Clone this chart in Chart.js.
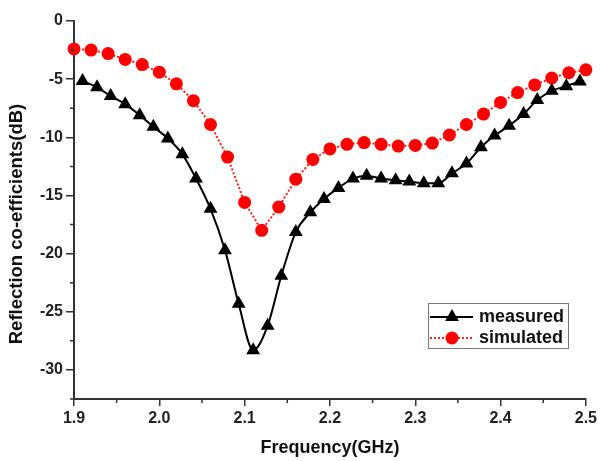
<!DOCTYPE html>
<html>
<head>
<meta charset="utf-8">
<script src="https://cdn.jsdelivr.net/npm/chart.js@4.4.0/dist/chart.umd.min.js"></script>
<style>
  html, body { margin: 0; padding: 0; background: #fff; }
  #wrap { width: 600px; height: 461px; }
</style>
</head>
<body>
<div id="wrap"><canvas id="s11"></canvas></div>
<script>
// measured S11 (dB)
var measFreq = [1.910, 1.927, 1.943, 1.960, 1.977, 1.993, 2.010, 2.027, 2.043, 2.060, 2.077, 2.093,
                2.110, 2.127, 2.143, 2.160, 2.177, 2.193, 2.210, 2.227, 2.243, 2.260, 2.277, 2.293,
                2.310, 2.327, 2.343, 2.360, 2.377, 2.393, 2.410, 2.427, 2.443, 2.460, 2.477, 2.493];
var measS11 = [-5.15, -5.7, -6.45, -7.15, -8.1, -9.1, -10.1, -11.45, -13.55, -16.15, -19.7, -24.3,
               -28.3, -26.2, -21.9, -18.15, -16.45, -15.3, -14.35, -13.55, -13.3, -13.55, -13.7, -13.8,
               -13.95, -13.95, -13.1, -12.25, -10.85, -9.85, -9.0, -8.0, -6.8, -6.0, -5.6, -5.2];

// simulated S11 (dB)
var simFreq = [1.90, 1.92, 1.94, 1.96, 1.98, 2.00, 2.02, 2.04, 2.06, 2.08, 2.10, 2.12, 2.14, 2.16, 2.18, 2.20,
               2.22, 2.24, 2.26, 2.28, 2.30, 2.32, 2.34, 2.36, 2.38, 2.40, 2.42, 2.44, 2.46, 2.48, 2.50];
var simS11 = [-2.4, -2.5, -2.8, -3.3, -3.75, -4.4, -5.4, -6.85, -8.9, -11.7, -15.6, -18.0, -16.0, -13.6, -11.9, -11.0,
              -10.6, -10.45, -10.6, -10.75, -10.7, -10.5, -9.8, -8.9, -8.0, -7.0, -6.15, -5.5, -4.9, -4.45, -4.2];

var xTicks = [1.9, 2.0, 2.1, 2.2, 2.3, 2.4, 2.5];
var xMinor = [1.95, 2.05, 2.15, 2.25, 2.35, 2.45];
var yTicks = [0, -5, -10, -15, -20, -25, -30];
var yMinor = [-2.5, -7.5, -12.5, -17.5, -22.5, -27.5, -32.5];

var seriesNames = ["measured", "simulated"];
var yTitle = "Reflection co-efficients(dB)";
var xTitle = "Frequency(GHz)";

function pairs(xs, ys) {
    return xs.map(function (x, i) { return { x: x, y: ys[i] }; });
}

var axisColor = '#333';
var tickFont = { family: 'Liberation Sans', size: 16, weight: 'bold' };
var titleFont = { family: 'Liberation Sans', size: 18, weight: 'bold' };

// small ticks between the labelled ones
var minorTicks = {
    id: 'minorTicks',
    afterDraw: function (chart) {
        var ctx = chart.ctx, a = chart.chartArea;
        var xs = chart.scales.x, ys = chart.scales.y;
        ctx.save();
        ctx.strokeStyle = axisColor;
        ctx.lineWidth = 1.5;
        ctx.beginPath();
        xMinor.forEach(function (v) {
            var p = xs.getPixelForValue(v);
            ctx.moveTo(p, a.bottom);
            ctx.lineTo(p, a.bottom + 4);
        });
        yMinor.forEach(function (v) {
            var p = ys.getPixelForValue(v);
            ctx.moveTo(a.left, p);
            ctx.lineTo(a.left - 4, p);
        });
        ctx.stroke();
        ctx.restore();
    }
};

// vertical axis title, sits a little below the middle of the axis
var sideTitle = {
    id: 'sideTitle',
    afterDraw: function (chart) {
        var ctx = chart.ctx;
        ctx.save();
        ctx.translate(17, 224);
        ctx.rotate(-Math.PI / 2);
        ctx.fillStyle = '#111';
        ctx.font = 'bold 18.5px "Liberation Sans"';
        ctx.textAlign = 'center';
        ctx.textBaseline = 'middle';
        ctx.fillText(yTitle, 0, 0);
        ctx.restore();
    }
};

// boxed legend, line with the marker in the middle
var boxLegend = {
    id: 'boxLegend',
    afterDraw: function (chart) {
        var ctx = chart.ctx;
        var bx = 428, by = 303, bw = 140, bh = 45;
        ctx.save();
        ctx.strokeStyle = '#777';
        ctx.lineWidth = 1;
        ctx.strokeRect(bx + 0.5, by + 0.5, bw, bh);
        chart.data.datasets.forEach(function (ds, i) {
            var cy = by + 14 + i * 21;
            ctx.strokeStyle = ds.borderColor;
            ctx.lineWidth = ds.borderWidth;
            ctx.setLineDash(ds.borderDash || []);
            ctx.beginPath();
            ctx.moveTo(bx + 2, cy);
            ctx.lineTo(bx + 45, cy);
            ctx.stroke();
            ctx.setLineDash([]);
            ctx.fillStyle = ds.pointBackgroundColor;
            ctx.strokeStyle = ds.pointBackgroundColor;
            Chart.helpers.drawPoint(ctx, {
                pointStyle: ds.pointStyle,
                radius: ds.pointRadius,
                rotation: 0,
                borderWidth: 0
            }, bx + 24, cy);
            ctx.fillStyle = '#111';
            ctx.font = 'bold 18px "Liberation Sans"';
            ctx.textBaseline = 'middle';
            ctx.textAlign = 'left';
            ctx.fillText(ds.label, bx + 51, cy);
        });
        ctx.restore();
    }
};

new Chart(document.getElementById('s11'), {
    type: 'line',
    data: {
        datasets: [
            {
                label: seriesNames[0],
                data: pairs(measFreq, measS11),
                borderColor: '#000',
                borderWidth: 2,
                cubicInterpolationMode: 'monotone',
                pointStyle: 'triangle',
                pointRadius: 8,
                pointBackgroundColor: '#000',
                pointBorderColor: '#000',
                pointBorderWidth: 0,
                clip: false
            },
            {
                label: seriesNames[1],
                data: pairs(simFreq, simS11),
                borderColor: '#ff1a1a',
                borderWidth: 2,
                borderDash: [2, 2],
                tension: 0,
                pointStyle: 'circle',
                pointRadius: 6.5,
                pointBackgroundColor: '#ff0000',
                pointBorderColor: '#ff0000',
                pointBorderWidth: 0,
                clip: false
            }
        ]
    },
    options: {
        responsive: true,
        maintainAspectRatio: false,
        animation: false,
        layout: { padding: { top: 21, right: 12, left: 0, bottom: 0 } },
        plugins: {
            legend: { display: false },
            tooltip: { enabled: false }
        },
        scales: {
            x: {
                type: 'linear',
                min: 1.9,
                max: 2.5,
                afterBuildTicks: function (s) { s.ticks = xTicks.map(function (v) { return { value: v }; }); },
                afterFit: function (s) { s.height = 62; },
                border: { display: true, color: axisColor, width: 2 },
                grid: { drawOnChartArea: false, drawTicks: true, tickLength: 7, tickColor: axisColor, lineWidth: 1.5 },
                ticks: {
                    color: '#222', font: tickFont, padding: 3, maxRotation: 0,
                    callback: function (v) { return v.toFixed(1); }
                },
                title: { display: true, text: xTitle, color: '#111', font: titleFont, padding: { top: 0, bottom: 2 } }
            },
            y: {
                type: 'linear',
                min: -32.5,
                max: 0,
                afterBuildTicks: function (s) { s.ticks = yTicks.map(function (v) { return { value: v }; }); },
                afterFit: function (s) { s.width = 74; },
                border: { display: true, color: axisColor, width: 2 },
                grid: { drawOnChartArea: false, drawTicks: true, tickLength: 8, tickColor: axisColor, lineWidth: 1.5 },
                ticks: { color: '#222', font: tickFont, padding: 3 },
                title: { display: false }
            }
        }
    },
    plugins: [minorTicks, sideTitle, boxLegend]
});
</script>
</body>
</html>
